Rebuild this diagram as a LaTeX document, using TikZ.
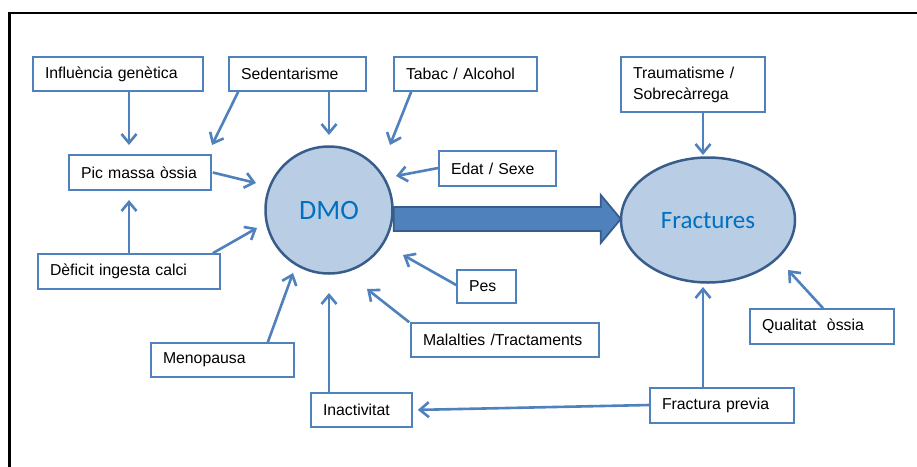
\documentclass[tikz,border=0pt]{standalone}
\usepackage{fontspec}
\setmainfont{Liberation Sans}
\newfontfamily\calfont{Carlito}
\usetikzlibrary{arrows.meta,calc,shapes.geometric}
\definecolor{boxblue}{HTML}{4F81BD}
\definecolor{darkblue}{HTML}{385D8A}
\definecolor{fillblue}{HTML}{B9CDE5}
\definecolor{txtblue}{HTML}{0070C0}
\begin{document}
\begin{tikzpicture}[x=1pt,y=-1pt,
  fbox/.style={draw=boxblue,line width=1.6pt,fill=white,inner xsep=12pt,inner ysep=0pt,
    align=left,font=\fontsize{15.8}{21}\selectfont,minimum height=34pt},
  conn/.style={draw=boxblue,line width=2.6pt,-{Straight Barb[length=9pt,width=15pt,line width=2.6pt]}},
  bigblob/.style={draw=darkblue,line width=2.5pt,fill=fillblue}]
\fill[white] (0,0) rectangle (917,466);
\useasboundingbox (0,0) rectangle (917,466);
% frame (top and left edges visible)
\draw[line width=2.8pt,black] (9.5,480) -- (9.5,13) -- (930,13);

% ellipses
\node[bigblob,circle,minimum size=127pt,inner sep=0pt] (dmo) at (329,210) {};
\node[font=\calfont\fontsize{28}{30}\selectfont,text=txtblue] (dmot) at (329,211) {DMO};
\node[bigblob,ellipse,minimum width=174pt,minimum height=125pt,inner sep=0pt] (fra) at (708,220) {};
\node[font=\calfont\fontsize{25}{28}\selectfont,text=txtblue] (frat) at (708,221) {Fractures};

% big block arrow
\draw[darkblue,line width=1.8pt,fill=boxblue,line join=miter]
  ($(dmo.east)+(0,-3)$) -- ++(207,0) -- ++(0,-12) -- ($(fra.west)+(1,-1)$) -- ($(dmo.east)+(207,33)$) -- ++(0,-12) -- ($(dmo.east)+(0,21)$) -- cycle;

% boxes
\node[fbox,text width=146pt] (inf) at (118,74) {Influència genètica};
\node[fbox,text width=113pt] (sed) at (297.5,74) {Sedentarisme};
\node[fbox,text width=119pt] (tab) at (465.5,74) {Tabac / Alcohol};
\node[fbox,text width=120pt,minimum height=55pt] (tra) at (693,84.5) {Traumatisme /\\Sobrecàrrega};
\node[fbox,text width=118pt,minimum height=35pt] (pic) at (140,172.5) {Pic massa òssia};
\node[fbox,text width=93pt,minimum height=35pt] (eda) at (497.5,168.5) {Edat / Sexe};
\node[fbox,text width=35pt,minimum height=33pt] (pes) at (486.5,286.5) {Pes};
\node[fbox,text width=164pt] (mal) at (505,340) {Malalties /Tractaments};
\node[fbox,text width=77pt] (ina) at (361.5,410) {Inactivitat};
\node[fbox,text width=119pt] (men) at (222.5,360) {Menopausa};
\node[fbox,text width=158pt,minimum height=35pt] (def) at (129,271.5) {Dèficit ingesta calci};
\node[fbox,text width=120pt,minimum height=35pt] (qua) at (822,326.5) {Qualitat\ \ òssia};
\node[fbox,text width=120pt,minimum height=35pt] (fpr) at (722,405.5) {Fractura previa};

% arrow end points
\coordinate (e1) at (129,145);
\coordinate (e2) at (212,145);
\coordinate (e3) at (329,135);
\coordinate (e4) at (390,145);
\coordinate (e5) at (396,176);
\coordinate (e6) at (256,183);
\coordinate (e7) at (257,228);
\coordinate (e8) at (129,200);
\coordinate (e9) at (293,273);
\coordinate (e10) at (329,293);
\coordinate (e11) at (367,289);
\coordinate (e12) at (403,255);
\coordinate (e13) at (703,155);
\coordinate (e14) at (703,287);
\coordinate (e15) at (788,270);
\coordinate (e16) at (ina.east);

% connectors
\draw[conn] ($(inf.south)+(11,0)$) -- (e1);
\draw[conn] ($(sed.south west)+(10,0)$) -- (e2);
\draw[conn] (sed.south -| dmo.north) -- (e3);
\draw[conn] ($(tab.south west)+(18,0)$) -- (e4);
\draw[conn] ($(eda.west)+(0,-0.5)$) -- (e5);
\draw[conn] ($(pic.east)+(1,0)$) -- (e6);
\draw[conn] ($(def.north east)+(-8,0)$) -- (e7);
\draw[conn] (def.north) -- (e8);
\draw[conn] ($(men.north east)+(-27,0)$) -- (e9);
\draw[conn] (ina.north -| dmo.south) -- (e10);
\draw[conn] ($(mal.north west)+(-1,0)$) -- (e11);
\draw[conn] ($(pes.west)+(0,-1.5)$) -- (e12);
\draw[conn] ($(tra.south)+(10,0)$) -- (e13);
\draw[conn] (fpr.north -| e14) -- (e14);
\draw[conn] ($(qua.north)+(1,0)$) -- (e15);
\draw[conn,shorten >=5pt] ($(fpr.west)+(0,-0.5)$) -- (e16);
\end{tikzpicture}
\end{document}
